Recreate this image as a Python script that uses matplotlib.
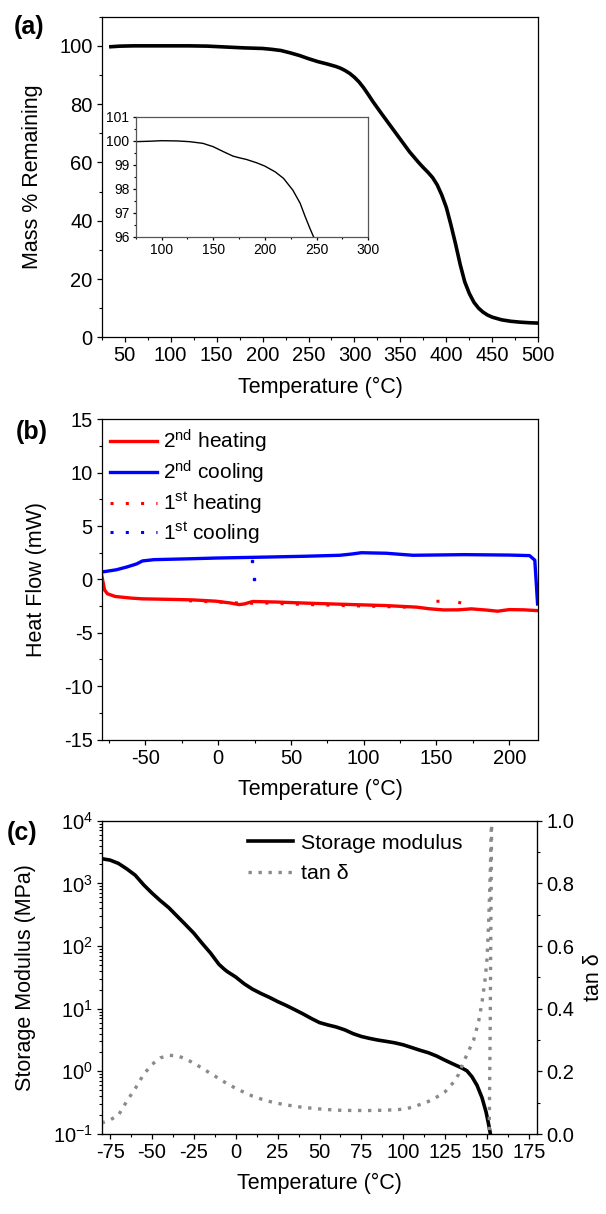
import numpy as np
import matplotlib
matplotlib.use("Agg")
import matplotlib.pyplot as plt
from matplotlib.ticker import MultipleLocator, LogLocator, NullFormatter
from matplotlib.lines import Line2D

plt.rcParams["font.family"] = ["Liberation Sans", "DejaVu Sans"]
plt.rcParams["axes.unicode_minus"] = False
plt.rcParams["mathtext.default"] = "regular"
plt.rcParams["mathtext.fontset"] = "custom"
plt.rcParams["mathtext.rm"] = "Liberation Sans"

# ---- (a) TGA ----
tga_T = [35, 45, 60, 80, 100, 120, 140, 160, 180, 200, 210, 220, 230, 240, 250, 260, 270, 280,
         285, 290, 295, 300, 305, 310, 315, 320, 330, 340, 350, 360, 370, 375, 380, 385, 390,
         395, 400, 405, 410, 415, 420, 425, 430, 435, 440, 445, 450, 460, 470, 480, 490, 498]
tga_mass = [99.7, 99.9, 100.0, 100.0, 100.0, 100.0, 99.9, 99.6, 99.3, 99.1, 98.8, 98.4, 97.6,
            96.7, 95.6, 94.6, 93.8, 92.9, 92.3, 91.5, 90.5, 89.2, 87.6, 85.6, 83.3, 80.9, 76.5,
            72.2, 67.9, 63.6, 59.9, 58.2, 56.6, 54.8, 52.3, 48.8, 44.5, 38.5, 32.0, 25.0, 19.0,
            15.0, 12.0, 10.0, 8.6, 7.6, 6.9, 6.0, 5.5, 5.2, 5.0, 4.9]
inset_T = [75, 90, 100, 115, 127, 140, 150, 160, 169, 175, 182, 192, 200, 210, 218, 227, 234,
           239, 243.5, 247]
inset_mass = [99.96, 99.98, 100.0, 99.99, 99.96, 99.89, 99.75, 99.54, 99.36, 99.29, 99.22,
              99.08, 98.94, 98.7, 98.43, 97.94, 97.4, 96.83, 96.35, 96.0]

# ---- (b) DSC ----
cool2_T = [-80, -70, -62.8, -56, -52, -44, -20, -1.5, 36, 60, 83.6, 92, 98.4, 115.6, 125, 134,
           169, 200, 214, 217.6, 219.5]
cool2_hf = [0.69, 0.9, 1.16, 1.45, 1.73, 1.85, 1.93, 2.0, 2.1, 2.17, 2.26, 2.38, 2.5, 2.45,
            2.35, 2.26, 2.32, 2.28, 2.23, 1.8, -2.3]
heat2_T = [-80, -78, -76, -70.7, -60, -52, -30, -17.6, -1.6, 8, 14.4, 18, 23.7, 40, 62, 90,
           115, 136.5, 145, 155, 165, 174, 185, 192, 200, 210, 219]
heat2_hf = [0.38, -1.0, -1.35, -1.6, -1.75, -1.82, -1.88, -1.92, -2.04, -2.2, -2.36, -2.3,
            -2.07, -2.12, -2.23, -2.35, -2.45, -2.6, -2.75, -2.86, -2.85, -2.76, -2.88, -2.98,
            -2.83, -2.85, -2.92]
heat1_T = [-20, 20, 30, 60, 100, 135, np.nan, 150, 153, np.nan, 165, 167]
heat1_hf = [-2.0, -2.25, -2.2, -2.35, -2.5, -2.62, np.nan, -2.05, -2.05, np.nan, -2.15, -2.2]
cool1_T = [23.0, np.nan, 24.5]
cool1_hf = [1.75, np.nan, 0.0]

# ---- (c) DMA ----
dma_T = [-79, -75, -70, -65, -60, -55, -50, -45, -40, -35, -30, -25, -20, -15, -12, -10, -7,
         -5, 0, 5, 10, 15, 20, 25, 30, 35, 40, 45, 50, 55, 60, 65, 70, 75, 80, 85, 90, 95, 100,
         105, 110, 115, 120, 125, 130, 135, 138, 141, 144, 147, 149.5, 151, 152]
storage = [2450, 2350, 2080, 1700, 1350, 950, 700, 530, 410, 300, 220, 160, 110, 77, 60, 51,
           43, 39, 32, 25, 20.5, 17.5, 15.2, 13, 11.3, 9.7, 8.3, 7.0, 6.0, 5.5, 5.1, 4.6, 4.0,
           3.6, 3.35, 3.15, 3.0, 2.85, 2.65, 2.4, 2.17, 1.98, 1.75, 1.5, 1.3, 1.13, 1.02, 0.82,
           0.6, 0.38, 0.22, 0.14, 0.1]
tan_T = [-80, -75, -70, -65, -60, -55, -50, -45, -40, -35, -30, -25, -20, -15, -10, -5, 0, 5,
         10, 15, 20, 25, 30, 40, 50, 60, 70, 80, 90, 100, 105, 110, 115, 120, 125, 130, 133,
         136, 139, 142, 145, 147, 149, 150, 151, 152, 152.6, 153.0, 152.6, 152.2, 151.9,
         151.6, 151.4, 151.3]
tan_d = [0.035, 0.045, 0.06, 0.105, 0.145, 0.19, 0.222, 0.243, 0.251, 0.25, 0.24, 0.226,
         0.21, 0.193, 0.177, 0.16, 0.146, 0.133, 0.121, 0.112, 0.104, 0.098, 0.093, 0.085,
         0.08, 0.076, 0.075, 0.075, 0.076, 0.079, 0.085, 0.094, 0.104, 0.118, 0.135, 0.165,
         0.19, 0.23, 0.265, 0.3, 0.36, 0.42, 0.5, 0.56, 0.68, 0.85, 1.0, 1.1, 0.9, 0.6, 0.35,
         0.18, 0.06, 0.0]

W, H = 606, 1214
fig = plt.figure(figsize=(W / 100, H / 100), dpi=100)
TICK_FS = 14.5
LABEL_FS = 15.5
GREY = "#8a8a8a"


def box(x0, y0, x1, y1):
    return [x0 / W, 1 - y1 / H, (x1 - x0) / W, (y1 - y0) / H]


def style(ax, fs=TICK_FS):
    ax.tick_params(which="both", direction="out", top=False, right=False, labelsize=fs)
    ax.tick_params(which="major", length=3.5, width=0.9, pad=3)
    ax.tick_params(which="minor", length=2.2, width=0.8)
    for s in ax.spines.values():
        s.set_linewidth(0.9)


# (a)
ax1 = fig.add_axes(box(101.7, 16.7, 538.3, 337.3))
ax1.plot(tga_T, tga_mass, color="black", lw=2.6)
ax1.set_xlim(25, 500)
ax1.set_ylim(0, 110)
ax1.xaxis.set_major_locator(MultipleLocator(50))
ax1.xaxis.set_minor_locator(MultipleLocator(25))
ax1.yaxis.set_major_locator(MultipleLocator(20))
ax1.yaxis.set_minor_locator(MultipleLocator(10))
style(ax1)
ax1.set_xlabel("Temperature (°C)", fontsize=LABEL_FS, labelpad=8)
ax1.set_ylabel("Mass % Remaining", fontsize=LABEL_FS, labelpad=12)
fig.text(29 / W, 1 - 27 / H, "(a)", fontsize=18, fontweight="bold", ha="center", va="center")

ins = fig.add_axes(box(135.7, 116.7, 368.3, 236.7))
ins.plot(inset_T, inset_mass, color="black", lw=1.0)
ins.set_xlim(75, 300)
ins.set_ylim(96, 101)
ins.xaxis.set_major_locator(MultipleLocator(50))
ins.xaxis.set_minor_locator(MultipleLocator(25))
ins.yaxis.set_major_locator(MultipleLocator(1))
ins.yaxis.set_minor_locator(MultipleLocator(0.5))
style(ins, 10)
ins.tick_params(which="major", length=2.5, pad=2)
ins.tick_params(which="minor", length=1.5)
for s in ins.spines.values():
    s.set_color("#555555")

# (b)
ax2 = fig.add_axes(box(101.7, 419.3, 538.3, 739.5))
ax2.plot(heat1_T, heat1_hf, color="red", lw=2.2, ls=(0, (1, 4)), label="1$^{st}$ heating", zorder=1)
ax2.plot(cool1_T, cool1_hf, color="blue", lw=2.2, ls=(0, (1, 4)), label="1$^{st}$ cooling", zorder=1)
ax2.plot(cool1_T, cool1_hf, color="blue", lw=0, marker="s", ms=1.8, zorder=1)
ax2.plot(heat2_T, heat2_hf, color="red", lw=2.4, label="2$^{nd}$ heating", zorder=2)
ax2.plot(cool2_T, cool2_hf, color="blue", lw=2.4, label="2$^{nd}$ cooling", zorder=2)
ax2.set_xlim(-80, 220)
ax2.set_ylim(-15, 15)
ax2.xaxis.set_major_locator(MultipleLocator(50))
ax2.xaxis.set_minor_locator(MultipleLocator(25))
ax2.yaxis.set_major_locator(MultipleLocator(5))
ax2.yaxis.set_minor_locator(MultipleLocator(2.5))
style(ax2)
ax2.set_xlabel("Temperature (°C)", fontsize=LABEL_FS, labelpad=8)
ax2.set_ylabel("Heat Flow (mW)", fontsize=LABEL_FS, labelpad=12)
h, l = ax2.get_legend_handles_labels()
order = [2, 3, 0, 1]
ax2.legend([h[i] for i in order], [l[i] for i in order], loc="upper left", frameon=False,
           fontsize=15, handlelength=2.26, handletextpad=0.3, labelspacing=0.2,
           borderaxespad=0.0, borderpad=0.4, bbox_to_anchor=(0.0, 1.0))
fig.text(32 / W, 1 - 432 / H, "(b)", fontsize=18, fontweight="bold", ha="center", va="center")

# (c)
ax3 = fig.add_axes(box(101.7, 820.7, 537.3, 1134))
ax3.plot(dma_T, storage, color="black", lw=2.6)
ax3.set_yscale("log")
ax3.set_xlim(-80, 180)
ax3.set_ylim(0.1, 1e4)
ax3.xaxis.set_major_locator(MultipleLocator(25))
ax3.xaxis.set_minor_locator(MultipleLocator(12.5))
ax3.yaxis.set_major_locator(LogLocator(base=10, numticks=10))
ax3.yaxis.set_minor_locator(LogLocator(base=10, subs=np.arange(2, 10), numticks=20))
ax3.yaxis.set_minor_formatter(NullFormatter())
style(ax3)
ax3.set_xlabel("Temperature (°C)", fontsize=LABEL_FS, labelpad=8)
ax3.set_ylabel("Storage Modulus (MPa)", fontsize=LABEL_FS, labelpad=12)

ax4 = ax3.twinx()
ax4.plot(tan_T, tan_d, color=GREY, lw=2.4, ls=(0, (1, 2)))
ax4.set_ylim(0, 1.0)
ax4.yaxis.set_major_locator(MultipleLocator(0.2))
ax4.yaxis.set_minor_locator(MultipleLocator(0.1))
ax4.tick_params(which="both", direction="out", labelsize=TICK_FS, left=False, right=True)
ax4.tick_params(which="major", length=3.5, width=0.9, pad=3)
ax4.tick_params(which="minor", length=2.2, width=0.8)
ax4.set_ylabel("tan δ", fontsize=LABEL_FS, labelpad=6)

handles = [Line2D([], [], color="black", lw=2.6),
           Line2D([], [], color=GREY, lw=2.4, ls=(0, (1, 2)))]
ax3.legend(handles, ["Storage modulus", "tan δ"], loc="upper left", frameon=False,
           fontsize=15.4, handlelength=2.1, handletextpad=0.37, labelspacing=0.55,
           bbox_to_anchor=(0.291, 1.02))
fig.text(22 / W, 1 - 833 / H, "(c)", fontsize=18, fontweight="bold", ha="center", va="center")

fig.savefig("out.png", dpi=100)
